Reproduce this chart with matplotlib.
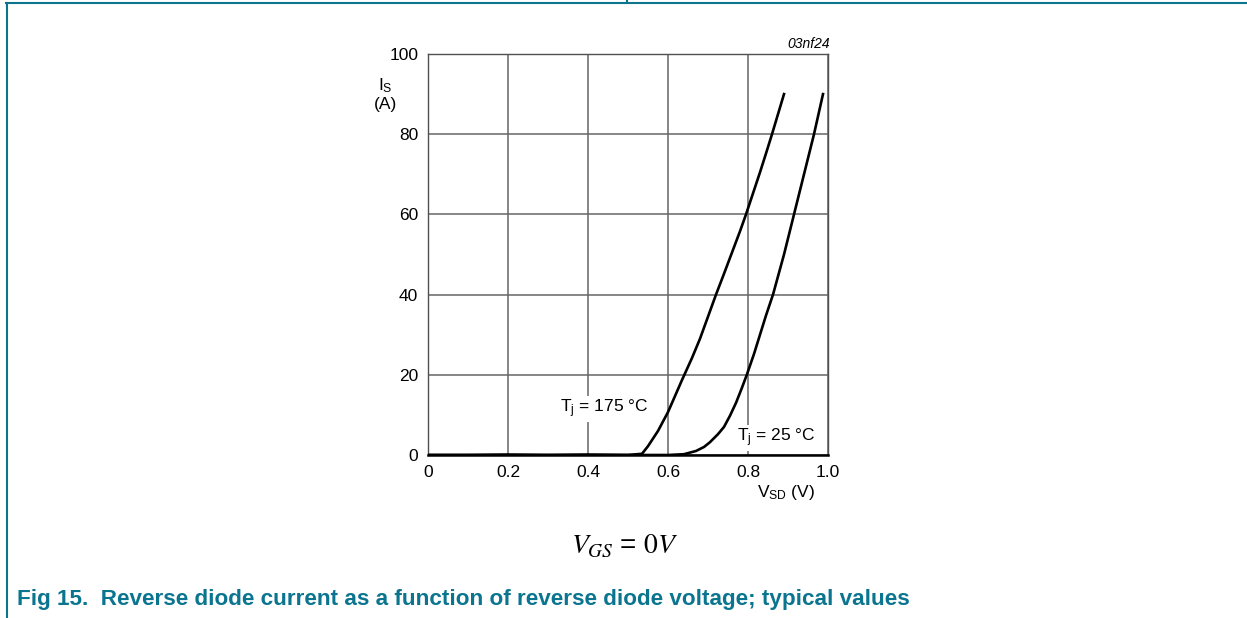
import matplotlib
matplotlib.use("Agg")
import matplotlib.pyplot as plt
from matplotlib.lines import Line2D

plt.rcParams["font.family"] = ["Liberation Sans", "DejaVu Sans"]
plt.rcParams["mathtext.default"] = "regular"

# reverse diode characteristic
vsd_175 = [0.0, 0.1, 0.2, 0.3, 0.4, 0.5, 0.535, 0.55, 0.575, 0.6, 0.635, 0.66, 0.68, 0.7, 0.72,
           0.74, 0.76, 0.78, 0.795, 0.815, 0.83, 0.845, 0.86, 0.875, 0.89]
is_175 = [0.0, 0.0, 0.1, 0.0, 0.1, 0.0, 0.3, 2.2, 6.0, 10.7, 18.7, 24.2, 29.0, 34.5, 40.0,
          45.2, 50.5, 55.8, 60.0, 66.0, 70.5, 75.2, 80.0, 85.0, 90.0]

vsd_25 = [0.0, 0.2, 0.4, 0.6, 0.64, 0.67, 0.69, 0.705, 0.725, 0.74, 0.755, 0.77, 0.785, 0.797,
          0.815, 0.83, 0.845, 0.8625, 0.89, 0.915, 0.94, 0.965, 0.9875]
is_25 = [0.0, 0.0, 0.0, 0.0, 0.2, 1.0, 2.0, 3.2, 5.2, 7.0, 9.8, 13.0, 16.8, 20.0,
         25.2, 30.0, 34.8, 40.0, 50.0, 60.0, 70.0, 80.0, 90.0]

x_ticks = [0, 0.2, 0.4, 0.6, 0.8, 1.0]
x_tick_labels = ["0", "0.2", "0.4", "0.6", "0.8", "1.0"]
y_ticks = [0, 20, 40, 60, 80, 100]

teal = "#0b7590"

fig = plt.figure(figsize=(12.47, 6.18), dpi=100)
ax = fig.add_axes([428 / 1247, 163 / 618, 400 / 1247, 401 / 618])

ax.plot(vsd_175, is_175, color="black", lw=1.9, zorder=3)
ax.plot(vsd_25, is_25, color="black", lw=1.9, zorder=3)

ax.set_xlim(0, 1.0)
ax.set_ylim(0, 100)
ax.set_xticks(x_ticks)
ax.set_xticklabels(x_tick_labels)
ax.set_yticks(y_ticks)
ax.tick_params(length=0, labelsize=12.5, pad=7)
ax.grid(True, color="#666666", lw=1.1)
ax.set_axisbelow(True)
for side in ["left", "top", "right"]:
    ax.spines[side].set_color("#505050")
    ax.spines[side].set_linewidth(1.0)
ax.spines["bottom"].set_linewidth(1.8)

# curve labels sit on white boxes that hide the grid
ax.text(0.33, 11.5, "T$_j$ = 175 °C", fontsize=12.5, va="center", ha="left",
        bbox=dict(facecolor="white", edgecolor="none", pad=1), zorder=2)
ax.text(0.772, 4.2, "T$_j$ = 25 °C", fontsize=12.5, va="center", ha="left",
        bbox=dict(facecolor="white", edgecolor="none", pad=1), zorder=2)

ax.text(-0.107, 0.922, "I$_S$", fontsize=12.5, ha="center", va="center", transform=ax.transAxes)
ax.text(-0.107, 0.875, "(A)", fontsize=12.5, ha="center", va="center", transform=ax.transAxes)
ax.text(0.822, -0.093, "V$_{SD}$ (V)", fontsize=12.5, ha="left", va="center", transform=ax.transAxes)
ax.text(1.005, 1.026, "03nf24", fontsize=10, style="italic", ha="right", va="center",
        transform=ax.transAxes)

fig.text(625 / 1247, 1 - 546 / 618, r"$\mathit{V}_{\mathit{GS}}\, = \,\mathrm{0}\mathit{V}$", fontsize=20,
         math_fontfamily="stix", ha="center", va="center")

fig.text(17 / 1247, 1 - 600 / 618,
         "Fig 15.  Reverse diode current as a function of reverse diode voltage; typical values",
         fontsize=16.2, fontweight="bold", color=teal, ha="left", va="center")

# page frame
fig.add_artist(Line2D([6 / 1247, 1], [1 - 3.3 / 618] * 2, color=teal, lw=1.5, transform=fig.transFigure))
fig.add_artist(Line2D([7 / 1247] * 2, [0, 1 - 3.3 / 618], color=teal, lw=1.5, transform=fig.transFigure))
fig.add_artist(Line2D([627 / 1247] * 2, [1 - 3.3 / 618, 1], color=teal, lw=1.5, transform=fig.transFigure))

fig.savefig("out.png", dpi=100)
